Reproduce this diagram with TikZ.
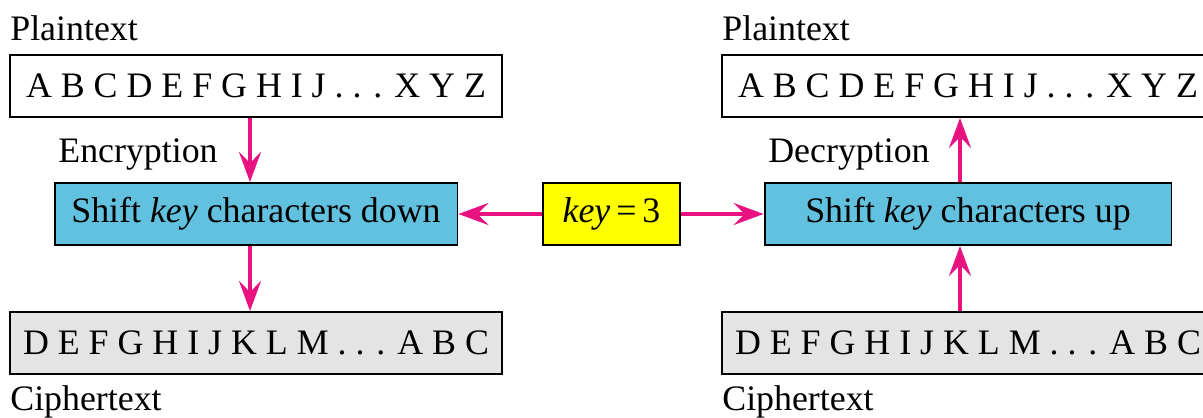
\documentclass[tikz,border=0pt]{standalone}
\usepackage{fontspec}
\setmainfont{Liberation Serif}
\usetikzlibrary{arrows.meta}
\definecolor{arrowpink}{RGB}{232,18,128}
\definecolor{shiftblue}{RGB}{98,193,222}
\definecolor{keyyellow}{RGB}{255,255,0}
\definecolor{cipgray}{RGB}{228,228,228}
\begin{document}
\begin{tikzpicture}[x=0.02cm, y=-0.02cm,
    every node/.style={font=\fontsize{20.4}{24}\selectfont},
    alphabox/.style={draw, line width=1.1pt, minimum width=9.84cm, minimum height=1.24cm, inner sep=0pt},
    shiftbox/.style={draw, line width=1.1pt, fill=shiftblue, minimum height=1.24cm, inner sep=0pt},
    lbl/.style={anchor=base west, inner sep=0pt},
    arr/.style={-{Stealth[length=0.6cm,width=0.44cm,inset=0.22cm]}, line width=1.9pt, arrowpink}]
                \useasboundingbox (0,0) rectangle (1203,418);

                \node[alphabox] (plainL) at (256,86) {A B C D E F G H I J . . . X Y Z};
                \node[shiftbox, minimum width=8.06cm] (shiftL) at (256,214) {Shift \textit{key} characters down};
                \node[alphabox, fill=cipgray] (cipherL) at (256,343) {D E F G H I J K L M . . . A B C};

                \node[draw, line width=1.1pt, fill=keyyellow, minimum width=2.74cm, minimum height=1.24cm, inner sep=0pt] (key) at (611.5,214) {\textit{key}\,=\,3};

                \node[alphabox] (plainR) at (968,86) {A B C D E F G H I J . . . X Y Z};
                \node[shiftbox, minimum width=8.14cm] (shiftR) at (968,214) {Shift \textit{key} characters up};
                \node[alphabox, fill=cipgray] (cipherR) at (968,343) {D E F G H I J K L M . . . A B C};

                \node[lbl] (ptL) at (10,41) {Plaintext};
                \node[lbl] (enc) at (58,163) {Encryption};
                \node[lbl] (ctL) at (10,410) {Ciphertext};
                \node[lbl] (ptR) at (722,41) {Plaintext};
                \node[lbl] (dec) at (768,163) {Decryption};
                \node[lbl] (ctR) at (722,410) {Ciphertext};

                \draw[arr] ([xshift=-0.12cm]plainL.south) -- ([xshift=-0.12cm]shiftL.north);
                \draw[arr] ([xshift=-0.12cm]shiftL.south) -- ([xshift=-0.12cm]cipherL.north);

                \draw[arr] (key.west) -- (shiftL.east);
                \draw[arr] (key.east) -- (shiftR.west);

                \draw[arr] ([xshift=-0.16cm]shiftR.north) -- ([xshift=-0.16cm]plainR.south);
                \draw[arr] ([xshift=-0.16cm]cipherR.north) -- ([xshift=-0.16cm]shiftR.south);
            \end{tikzpicture}
\end{document}
